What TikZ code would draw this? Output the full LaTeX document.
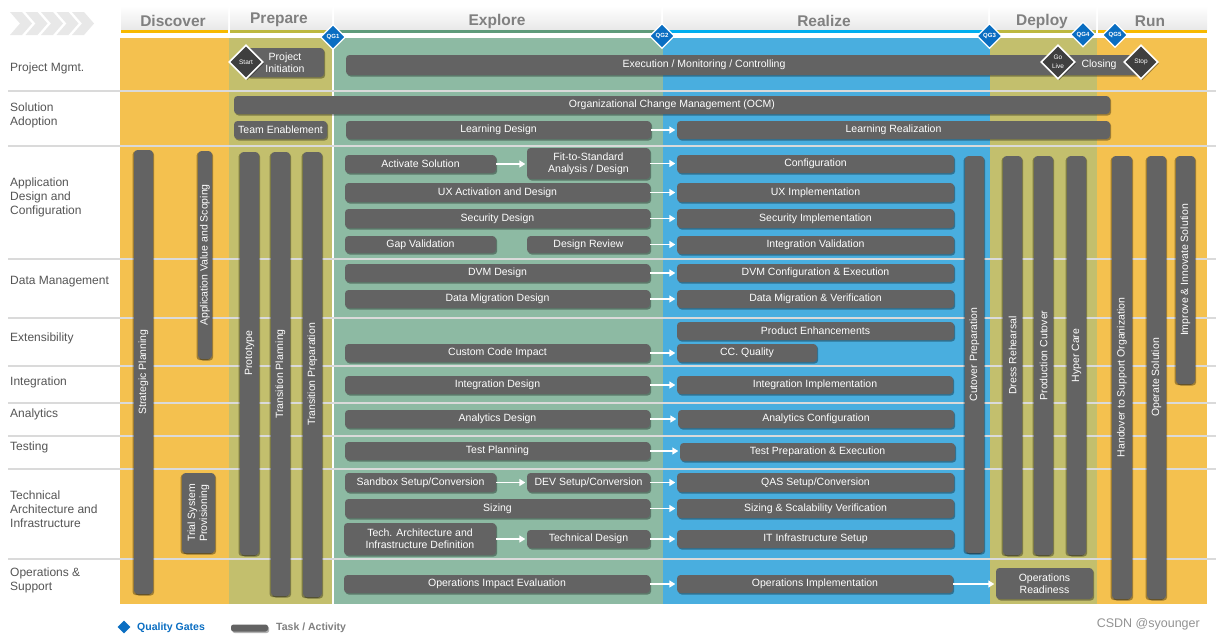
\documentclass[tikz,border=0pt]{standalone}
\usepackage{fontspec}
\setmainfont{Liberation Sans}
\usetikzlibrary{shadows,arrows.meta,shapes.geometric}
\definecolor{cOr}{HTML}{F4C14F}
\definecolor{cOl}{HTML}{C3BF6D}
\definecolor{cGr}{HTML}{8DBAA3}
\definecolor{cBl}{HTML}{49AEDF}
\definecolor{uOr}{HTML}{F7B900}
\definecolor{uOl}{HTML}{BDB83F}
\definecolor{uGr}{HTML}{5E9B7B}
\definecolor{uBl}{HTML}{00AEEF}
\definecolor{barc}{HTML}{636363}
\definecolor{qgc}{HTML}{0A6EC2}
\definecolor{lblc}{HTML}{555555}
\definecolor{sepc}{HTML}{DADADA}
\definecolor{hdrc}{HTML}{808080}
\definecolor{msc}{HTML}{3F3F3F}
\definecolor{chevc}{HTML}{E8E8E8}
\tikzset{
  bar/.style={fill=barc, rounded corners=3.5pt, inner sep=0pt, text=white, align=center,
    font=\fontsize{10.5}{12}\selectfont,
    drop shadow={shadow xshift=1.2pt, shadow yshift=-1.5pt, opacity=0.35, fill=black}},
  vbar/.style={bar, rotate=90,
    drop shadow={shadow xshift=-1.5pt, shadow yshift=-1.2pt, opacity=0.35, fill=black}},
  arr/.style={draw=white, line width=1.6pt, -{Triangle[length=6pt,width=7pt]}, shorten >=1.5pt},
  qgd/.style={diamond, fill=qgc, draw=white, line width=1.3pt, minimum size=25pt, inner sep=0pt,
    text=white, font=\bfseries\fontsize{6}{6}\selectfont},
  msd/.style={diamond, fill=msc, draw=white, line width=1.6pt, minimum size=34pt, inner sep=0pt,
    text=white, align=center, font=\fontsize{6.5}{9}\selectfont,
    drop shadow={shadow xshift=1.2pt, shadow yshift=-1.5pt, opacity=0.35, fill=black}},
  hdrtxt/.style={text=hdrc, font=\bfseries\fontsize{15.5}{18}\selectfont, inner sep=0pt},
  rowlbl/.style={anchor=west, align=left, text=lblc, font=\fontsize{12}{14}\selectfont, inner sep=0pt},
}
\newcommand\taskh[6]{\node[bar, minimum width={(#4-#2)*1pt}, minimum height={(#5-#3)*1pt}] (#1) at ({(#2+#4)/2},{(#3+#5)/2}) {#6};}
\newcommand\taskv[6]{\node[vbar, minimum width={(#5-#3)*1pt}, minimum height={(#4-#2)*1pt}] (#1) at ({(#2+#4)/2},{(#3+#5)/2}) {#6};}
\begin{document}
\begin{tikzpicture}[x=1pt,y=-1pt]
\useasboundingbox (0,0) rectangle (1216,641);
\fill[white] (0,0) rectangle (1216,641);
% chevrons
\foreach \i in {0,...,4}{
  \pgfmathsetmacro\xo{10+\i*15.5}
  \fill[chevc] (\xo,12) -- ({\xo+12},12) -- ({\xo+22},23.5) -- ({\xo+12},35) -- (\xo,35) -- ({\xo+10},23.5) -- cycle;
}
% header boxes
\foreach \a/\b/\c in {121/228/uOr,230/332/uOl,334/661/uGr,663/988/uBl,990/1096/uOl,1098/1207/uOr}{
  \shade[top color=white, bottom color=gray!18] (\a,6) rectangle (\b,30);
  \fill[\c] (\a,30) rectangle (\b,33.3);
}
\node[hdrtxt] (hDis) at (173,21) {Discover};
\node[hdrtxt] (hPre) at (279,20) {Prepare};
\node[hdrtxt] (hExp) at (497,21) {Explore};
\node[hdrtxt] (hRea) at (824,21) {Realize};
\node[hdrtxt] (hDep) at (1042,21) {Deploy};
\node[hdrtxt] (hRun) at (1150,21) {Run};
% body
\fill[cOr] (120,38) rectangle (229,604);
\fill[cOl] (229,38) rectangle (333,604);
\fill[cGr] (333,38) rectangle (663,604);
\fill[cBl] (663,38) rectangle (990,604);
\fill[cOl] (990,38) rectangle (1097,604);
\fill[cOr] (1097,38) rectangle (1207,604);
\draw[white, line width=1.5pt] (333,30) -- (333,604);
\foreach \y in {91,146,259,318,366,403,436,469,559}
  \draw[sepc, line width=1.8pt] (8,\y) -- (1216,\y);
% row labels
\node[rowlbl] (lPM) at (10,68) {Project Mgmt.};
\node[rowlbl] (lSA) at (10,115) {Solution\\Adoption};
\node[rowlbl] (lAD) at (10,197) {Application\\Design and\\Configuration};
\node[rowlbl] (lDM) at (10,282) {Data Management};
\node[rowlbl] (lEX) at (10,338) {Extensibility};
\node[rowlbl] (lIN) at (10,382) {Integration};
\node[rowlbl] (lAN) at (10,414) {Analytics};
\node[rowlbl] (lTE) at (10,447) {Testing};
\node[rowlbl] (lTA) at (10,509) {Technical\\Architecture and\\Infrastructure};
\node[rowlbl] (lOS) at (10,580) {Operations \&\\Support};
% vertical bars
\taskv{strat}{134}{150}{153}{594}{Strategic Planning}
\taskv{avs}{198}{151}{212}{359}{Application Value and Scoping}
\taskv{trial}{182}{473}{215}{553}{Trial System\\Provisioning}
\taskv{proto}{240}{152}{259}{555}{Prototype}
\taskv{tplan}{271}{152}{290}{596}{Transition Planning}
\taskv{tprep}{303}{152}{322}{597}{Transition Preparation}
\taskv{cutp}{965}{156}{984}{553}{Cutover Preparation}
\taskv{dress}{1003}{156}{1022}{555}{Dress Rehearsal}
\taskv{prodc}{1034}{156}{1053}{555}{Production Cutover}
\taskv{hyper}{1067}{156}{1086}{555}{Hyper Care}
\taskv{hand}{1112}{156}{1132}{599}{Handover to Support Organization}
\taskv{oper}{1147}{156}{1166}{599}{Operate Solution}
\taskv{impr}{1176}{156}{1195}{384}{Improve \& Innovate Solution}
% project mgmt
\taskh{pinit}{246}{48}{324}{77}{Project\\Initiation}
\taskh{exec}{346}{55}{1062}{75}{Execution / Monitoring / Controlling}
\taskh{clos}{1058}{55}{1140}{75}{Closing}
% solution adoption
\taskh{ocm}{234}{96}{1110}{114}{Organizational Change Management (OCM)}
\taskh{team}{234}{121}{327}{139}{Team Enablement}
\taskh{learnd}{346}{121}{651}{139}{Learning Design}
\taskh{learnr}{677}{121}{1110}{139}{Learning Realization}
% application design
\taskh{act}{345}{155}{496}{173}{Activate Solution}
\taskh{fit}{527}{148}{650}{179}{Fit-to-Standard\\Analysis / Design}
\taskh{conf}{677}{155}{954}{173}{Configuration}
\taskh{uxd}{345}{183}{650}{202}{UX Activation and Design}
\taskh{uxi}{677}{183}{954}{202}{UX Implementation}
\taskh{secd}{345}{209}{650}{228}{Security Design}
\taskh{seci}{677}{209}{954}{228}{Security Implementation}
\taskh{gap}{345}{236}{496}{253}{Gap Validation}
\taskh{drev}{527}{236}{650}{253}{Design Review}
\taskh{intv}{677}{236}{954}{254}{Integration Validation}
% data management
\taskh{dvmd}{345}{264}{650}{282}{DVM Design}
\taskh{dvmc}{677}{264}{954}{282}{DVM Configuration \& Execution}
\taskh{dmd}{345}{290}{650}{308}{Data Migration Design}
\taskh{dmv}{677}{290}{954}{308}{Data Migration \& Verification}
% extensibility
\taskh{prodenh}{677}{322}{954}{340}{Product Enhancements}
\taskh{cci}{345}{344}{650}{362}{Custom Code Impact}
\taskh{ccq}{677}{344}{817}{362}{CC. Quality}
% integration
\taskh{intd}{345}{376}{650}{394}{Integration Design}
\taskh{inti}{677}{376}{953}{394}{Integration Implementation}
% analytics
\taskh{and}{345}{410}{650}{428}{Analytics Design}
\taskh{anc}{678}{410}{954}{428}{Analytics Configuration}
% testing
\taskh{tpl}{345}{442}{650}{460}{Test Planning}
\taskh{tpe}{680}{443}{955}{461}{Test Preparation \& Execution}
% technical
\taskh{sbx}{345}{473}{496}{492}{Sandbox Setup/Conversion}
\taskh{dev}{527}{473}{650}{492}{DEV Setup/Conversion}
\taskh{qas}{677}{473}{954}{492}{QAS Setup/Conversion}
\taskh{siz}{345}{499}{650}{518}{Sizing}
\taskh{sizv}{677}{499}{954}{518}{Sizing \& Scalability Verification}
\taskh{tad}{344}{523}{496}{555}{Tech. Architecture and\\Infrastructure Definition}
\taskh{techd}{527}{530}{650}{548}{Technical Design}
\taskh{itis}{677}{530}{954}{548}{IT Infrastructure Setup}
% operations
\taskh{opie}{344}{575}{650}{593}{Operations Impact Evaluation}
\taskh{opim}{677}{575}{953}{593}{Operations Implementation}
\taskh{oprd}{996}{568}{1093}{599}{Operations\\Readiness}
% arrows
\foreach \a/\b in {learnd/learnr,act/fit,fit/conf,uxd/uxi,secd/seci,drev/intv,dvmd/dvmc,dmd/dmv,cci/ccq,intd/inti,and/anc,tpl/tpe,sbx/dev,dev/qas,siz/sizv,tad/techd,techd/itis,opie/opim,opim/oprd}
  \draw[arr] (\a.east) -- (\a.east -| \b.west);
% milestones
\node[msd] (mStart) at (246,62) {Start};
\node[msd] (mGo) at (1058,62) {Go\\Live};
\node[msd] (mStop) at (1141,62) {Stop};
% quality gates
\node[qgd] (qg1) at (333,37) {QG1};
\node[qgd] (qg2) at (662,36) {QG2};
\node[qgd] (qg3) at (989.5,36) {QG3};
\node[qgd] (qg4) at (1083,34.5) {QG4};
\node[qgd] (qg5) at (1115,35) {QG5};
% legend
\node[diamond, fill=qgc, minimum size=13pt, inner sep=0pt] (lgq) at (124,627) {};
\node[anchor=west, inner sep=0pt, text=qgc, font=\bfseries\fontsize{10.5}{12}\selectfont] (lgqt) at (137,628) {Quality Gates};
\node[fill=barc, rounded corners=2.5pt, minimum width=37pt, minimum height=7pt, inner sep=0pt,
  drop shadow={shadow xshift=1.2pt, shadow yshift=-1.5pt, opacity=0.3, fill=black}] (lgt) at (249.5,628) {};
\node[anchor=west, inner sep=0pt, text=hdrc, font=\bfseries\fontsize{10.5}{12}\selectfont] (lgtt) at (276,628) {Task / Activity};
\node[anchor=east, inner sep=0pt, text=gray!85, font=\fontsize{12.5}{14}\selectfont] (wm) at (1200,624) {CSDN @syounger};
\end{tikzpicture}
\end{document}
